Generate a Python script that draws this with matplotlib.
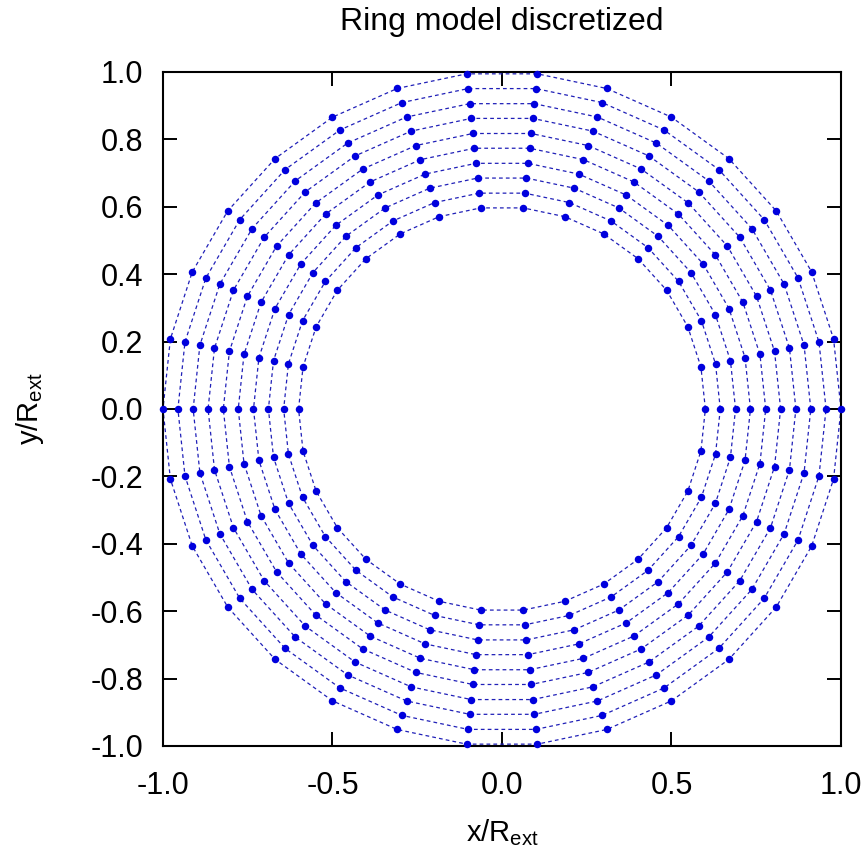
import numpy as np
import matplotlib
matplotlib.use("Agg")
import matplotlib.pyplot as plt

plt.rcParams['font.family'] = ['Liberation Sans', 'DejaVu Sans']
plt.rcParams['mathtext.fontset'] = 'custom'
plt.rcParams['mathtext.rm'] = 'Liberation Sans'
plt.rcParams['axes.unicode_minus'] = False

# ring radii (normalised by R_ext) and node angles in degrees
radii = [0.600, 0.644, 0.689, 0.733, 0.778, 0.822, 0.867, 0.911, 0.956, 1.000]
angles_deg = [0, 12, 24, 36, 48, 60, 72, 84, 96, 108, 120, 132, 144, 156, 168,
              180, 192, 204, 216, 228, 240, 252, 264, 276, 288, 300, 312, 324, 336, 348]

xticks = [-1.0, -0.5, 0.0, 0.5, 1.0]
yticks = [-1.0, -0.8, -0.6, -0.4, -0.2, 0.0, 0.2, 0.4, 0.6, 0.8, 1.0]

fig = plt.figure(figsize=(8.66, 8.51), dpi=100)
ax = fig.add_axes([0.1882, 0.1234, 0.7829, 0.7920])

theta = np.radians(angles_deg + [angles_deg[0]])
for r in radii:
    x = r * np.cos(theta)
    y = r * np.sin(theta)
    # closed polygon for each ring, dots at the nodes
    ax.plot(x, y, linestyle=(0, (3, 2.5)), color='#2020b8', linewidth=0.9, zorder=2)
    ax.plot(x[:-1], y[:-1], 'o', color='#0000dd', markersize=5.4,
            markeredgewidth=0, zorder=3, clip_on=False)

ax.set_xlim(-1.0, 1.0)
ax.set_ylim(-1.0, 1.0)
ax.set_xticks(xticks)
ax.set_yticks(yticks)
ax.set_xticklabels(['%.1f' % v for v in xticks])
ax.set_yticklabels(['%.1f' % v for v in yticks])
ax.tick_params(direction='in', length=10, width=1.4, top=True, right=True,
               labelsize=22)
ax.tick_params(axis='x', pad=18)
ax.tick_params(axis='y', pad=14)
for s in ax.spines.values():
    s.set_linewidth(1.5)

ax.set_title('Ring model discretized', fontsize=23, pad=30)
ax.set_xlabel(r'x/R$_\mathregular{ext}$', fontsize=21, labelpad=12)
ax.set_ylabel(r'y/R$_\mathregular{ext}$', fontsize=21, labelpad=32)

fig.savefig('out.png', dpi=100)
